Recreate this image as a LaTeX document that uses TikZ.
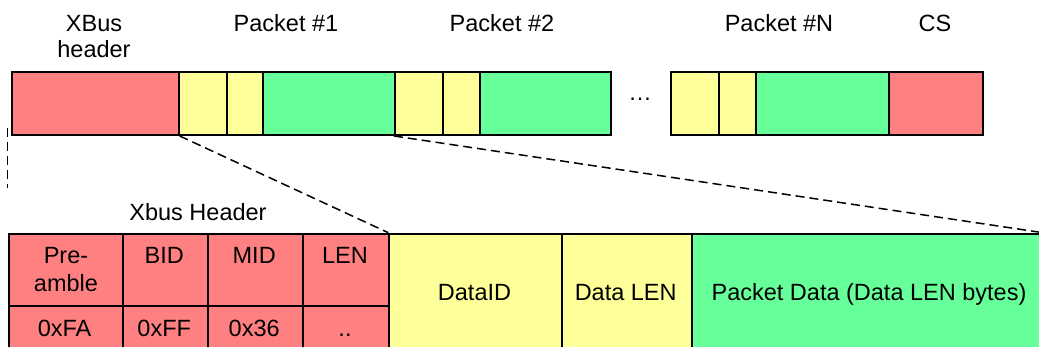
\documentclass[tikz,border=0pt]{standalone}
\usepackage{fontspec}
\setmainfont{Liberation Sans}
\definecolor{hred}{RGB}{255,128,128}
\definecolor{pyel}{RGB}{255,255,153}
\definecolor{pgrn}{RGB}{102,255,153}
\begin{document}
\begin{tikzpicture}[x=1pt,y=-1pt,
  cell/.style={draw=black, line width=2pt, inner sep=0pt, anchor=north west},
  lbl/.style={anchor=base, inner sep=0pt, font=\fontsize{23.5}{28}\selectfont},
  dashline/.style={dash pattern=on 9pt off 5pt, line width=1.5pt}]
\useasboundingbox (0,0) rectangle (1039,347);
\clip (0,0) rectangle (1039,347);
% top row
\node[cell, fill=hred, minimum width=167pt, minimum height=63.3pt] (hdr) at (10.7,70.7) {};
\node[cell, fill=pyel, minimum width=48pt, minimum height=63.3pt] (p1a) at (177.7,70.7) {};
\node[cell, fill=pyel, minimum width=36pt, minimum height=63.3pt] (p1b) at (225.7,70.7) {};
\node[cell, fill=pgrn, minimum width=132.3pt, minimum height=63.3pt] (p1c) at (261.7,70.7) {};
\node[cell, fill=pyel, minimum width=48pt, minimum height=63.3pt] (p2a) at (394,70.7) {};
\node[cell, fill=pyel, minimum width=36.7pt, minimum height=63.3pt] (p2b) at (442,70.7) {};
\node[cell, fill=pgrn, minimum width=131.3pt, minimum height=63.3pt] (p2c) at (478.7,70.7) {};
\node[cell, fill=pyel, minimum width=48pt, minimum height=63.3pt] (pna) at (670,70.7) {};
\node[cell, fill=pyel, minimum width=37pt, minimum height=63.3pt] (pnb) at (718,70.7) {};
\node[cell, fill=pgrn, minimum width=133pt, minimum height=63.3pt] (pnc) at (755,70.7) {};
\node[cell, fill=hred, minimum width=94pt, minimum height=63.3pt] (cs) at (888,70.7) {};
% top labels
\node[lbl] (tx1) at (94,31.5) {XBus};
\node[lbl] (tx2) at (94,58) {header};
\node[lbl] (tp1) at (286,31.5) {Packet \#1};
\node[lbl] (tp2) at (502,31.5) {Packet \#2};
\node[lbl] (tpn) at (779,31.5) {Packet \#N};
\node[lbl] (tcs) at (935,31.5) {CS};
\node[lbl] (dots) at (640,101) {…};
% bottom row
\node[cell, fill=hred, minimum width=114.2pt, minimum height=72.3pt] (pre) at (7.5,232.7) {};
\node[cell, fill=hred, minimum width=85pt, minimum height=72.3pt] (bid) at (121.7,232.7) {};
\node[cell, fill=hred, minimum width=95pt, minimum height=72.3pt] (mid) at (206.7,232.7) {};
\node[cell, fill=hred, minimum width=86.6pt, minimum height=72.3pt] (len) at (301.7,232.7) {};
\node[cell, fill=hred, minimum width=114.2pt, minimum height=60pt] (vpre) at (7.5,305) {};
\node[cell, fill=hred, minimum width=85pt, minimum height=60pt] (vbid) at (121.7,305) {};
\node[cell, fill=hred, minimum width=95pt, minimum height=60pt] (vmid) at (206.7,305) {};
\node[cell, fill=hred, minimum width=86.6pt, minimum height=60pt] (vlen) at (301.7,305) {};
\node[cell, fill=pyel, minimum width=172.4pt, minimum height=130pt] (did) at (388.3,232.7) {};
\node[cell, fill=pyel, minimum width=130pt, minimum height=130pt] (dlen) at (560.7,232.7) {};
\node[cell, fill=pgrn, minimum width=350.3pt, minimum height=130pt] (pdata) at (690.7,232.7) {};
% bottom labels
\node[lbl] (txh) at (198,220.5) {Xbus Header};
\node[lbl] (tpre1) at (66,264) {Pre-};
\node[lbl] (tpre2) at (66,291.7) {amble};
\node[lbl] (tbid) at (164.2,264) {BID};
\node[lbl] (tmid) at (254.2,264) {MID};
\node[lbl] (tlen) at (345,264) {LEN};
\node[lbl] (tfa) at (64.6,336.7) {0xFA};
\node[lbl] (tff) at (164.2,336.7) {0xFF};
\node[lbl] (t36) at (254.2,336.7) {0x36};
\node[lbl] (tdd) at (345,336.7) {..};
\node[lbl] (tdid) at (474.5,300.5) {DataID};
\node[lbl] (tdlen) at (625.7,300.5) {Data LEN};
\node[lbl] (tpd) at (869,300.5) {Packet Data (Data LEN bytes)};
% dashed connectors
\coordinate (v1) at (7.5,128);
\coordinate (v2) at (7.5,188);
\draw[dashline] (v1) -- (v2);
\draw[dashline] (hdr.south east) -- (did.north west);
\draw[dashline] (p2a.south west) -- (pdata.north east);
\end{tikzpicture}
\end{document}
